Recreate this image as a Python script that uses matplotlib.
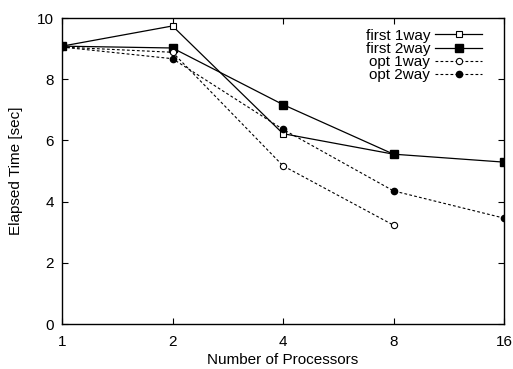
import matplotlib.pyplot as plt
import numpy as np

plt.rcParams['font.family'] = ['Liberation Sans', 'DejaVu Sans']

procs = [1, 2, 4, 8, 16]
first_1way = [9.08, 9.74, 6.22, 5.55]
first_2way = [9.08, 9.02, 7.17, 5.55, 5.29]
opt_1way = [9.05, 8.88, 5.17, 3.23]
opt_2way = [9.05, 8.67, 6.36, 4.35, 3.46]

fig = plt.figure(figsize=(5.13, 3.69), dpi=100)
ax = fig.add_axes([62/513, 45/369, 442/513, 306/369])

x = np.log2(procs)
ax.plot(x[:4], first_1way, '-', color='black', lw=0.9, marker='s', ms=5,
        mfc='white', mec='black', mew=0.8, label='first 1way')
ax.plot(x, first_2way, '-', color='black', lw=0.9, marker='s', ms=6,
        mfc='black', mec='black', label='first 2way')
ax.plot(x[:4], opt_1way, color='black', lw=0.8, dashes=(2.5, 2), marker='o', ms=4.5,
        mfc='white', mec='black', mew=0.8, label='opt 1way')
ax.plot(x, opt_2way, color='black', lw=0.8, dashes=(2.5, 2), marker='o', ms=4.5,
        mfc='black', mec='black', label='opt 2way')

ax.set_xlim(0, 4)
ax.set_ylim(0, 10)
ax.set_xticks(x)
ax.set_xticklabels([str(p) for p in procs])
ax.set_yticks([0, 2, 4, 6, 8, 10])
ax.tick_params(direction='in', top=True, right=True, labelsize=11, length=4)
ax.tick_params(axis='x', pad=8)
ax.tick_params(axis='y', pad=6)
for s in ax.spines.values():
    s.set_linewidth(1.0)

ax.set_xlabel('Number of Processors', fontsize=11, labelpad=3)
ax.set_ylabel('Elapsed Time [sec]', fontsize=11, labelpad=10)

ax.legend(loc='upper right', frameon=False, markerfirst=False, fontsize=11,
          handlelength=3.1, labelspacing=-0.05, borderaxespad=0.3, handletextpad=0.3,
          bbox_to_anchor=(0.975, 1.0))

fig.savefig('out.png', dpi=100)
